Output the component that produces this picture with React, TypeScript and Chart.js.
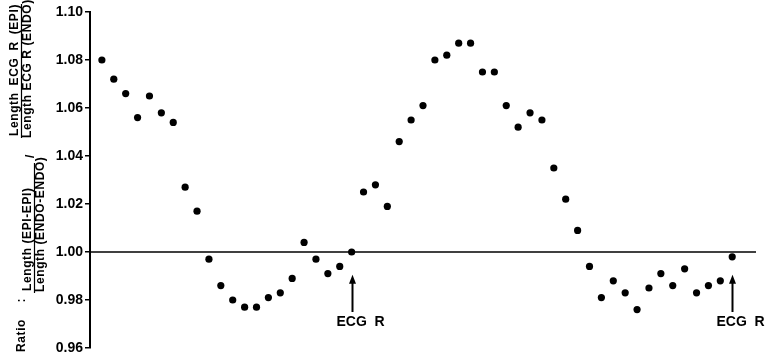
import React, { useEffect, useRef } from 'react';
import { Chart, registerables } from 'chart.js';

Chart.register(...registerables);

// ---- data ----
const sampleIndex = [
  1, 2, 3, 4, 5, 6, 7, 8, 9, 10, 11, 12, 13, 14, 15, 16, 17, 18, 19, 20, 21, 22, 23, 24, 25, 26, 27,
  28, 29, 30, 31, 32, 33, 34, 35, 36, 37, 38, 39, 40, 41, 42, 43, 44, 45, 46, 47, 48, 49, 50, 51, 52, 53, 54,
];
const ratioValues = [
  1.080, 1.072, 1.066, 1.056, 1.065, 1.058, 1.054, 1.027, 1.017, 0.997,
  0.986, 0.980, 0.977, 0.977, 0.981, 0.983, 0.989, 1.004, 0.997, 0.991,
  0.994, 1.000, 1.025, 1.028, 1.019, 1.046, 1.055, 1.061, 1.080, 1.082,
  1.087, 1.087, 1.075, 1.075, 1.061, 1.052, 1.058, 1.055, 1.035, 1.022,
  1.009, 0.994, 0.981, 0.988, 0.983, 0.976, 0.985, 0.991, 0.986, 0.993,
  0.983, 0.986, 0.988, 0.998,
];
const yTickValues = [0.96, 0.98, 1.0, 1.02, 1.04, 1.06, 1.08, 1.1];
const referenceLevel = 1.0;
const xRange = [0, 56];
const ecgMarkerIndex = [22, 54];
const ecgLabel = 'ECG  R';

const FONT = '"Liberation Sans", Arial, Helvetica, sans-serif';

const annotationPlugin = {
  id: 'ecgMarkers',
  afterDatasetsDraw(chart: any) {
    const { ctx, scales } = chart;
    const xs = scales.x;
    const ys = scales.y;
    ctx.save();
    ctx.strokeStyle = '#000';
    ctx.fillStyle = '#000';
    for (const idx of ecgMarkerIndex) {
      const x = Math.round(xs.getPixelForValue(idx)) + 0.5;
      const yTip = ys.getPixelForValue(0.9905);
      const yEnd = ys.getPixelForValue(0.975);
      ctx.lineWidth = 2;
      ctx.beginPath();
      ctx.moveTo(x, yTip + 6);
      ctx.lineTo(x, yEnd);
      ctx.stroke();
      ctx.beginPath();
      ctx.moveTo(x, yTip);
      ctx.lineTo(x - 3.5, yTip + 9);
      ctx.lineTo(x + 3.5, yTip + 9);
      ctx.closePath();
      ctx.fill();
      ctx.font = `bold 14px ${FONT}`;
      ctx.textAlign = 'left';
      ctx.textBaseline = 'middle';
      ctx.fillText(ecgLabel, x - 16, ys.getPixelForValue(0.9706));
    }
    ctx.restore();
  },
};

function vText(ctx: any, text: string, cx: number, yStart: number, fitLength?: number) {
  ctx.save();
  ctx.translate(cx, yStart);
  ctx.rotate(-Math.PI / 2);
  ctx.textAlign = 'left';
  ctx.textBaseline = 'middle';
  if (fitLength) {
    ctx.wordSpacing = '0px';
    const w = ctx.measureText(text).width;
    const spaces = (text.match(/ /g) || []).length;
    if (spaces > 0 && fitLength > w) {
      ctx.wordSpacing = `${(fitLength - w) / spaces}px`;
    }
  }
  ctx.fillText(text, 0, 0);
  ctx.restore();
}

const titlePlugin = {
  id: 'ratioTitle',
  afterDraw(chart: any) {
    const { ctx } = chart;
    ctx.save();
    ctx.fillStyle = '#000';
    ctx.strokeStyle = '#000';
    ctx.font = `bold 12px ${FONT}`;
    ctx.letterSpacing = '0.6px';
    // "Ratio :"
    vText(ctx, 'Ratio :', 22, 352, 54);
    // fraction 1
    vText(ctx, 'Length (EPI-EPI)', 28, 291, 96);
    vText(ctx, 'Length (ENDO-ENDO)', 41, 292, 122);
    ctx.lineWidth = 1.2;
    ctx.beginPath();
    ctx.moveTo(34.5, 293);
    ctx.lineTo(34.5, 163);
    ctx.stroke();
    // slash
    vText(ctx, '/', 31, 158);
    // fraction 2
    vText(ctx, 'Length ECG R (EPI)', 15, 136, 132);
    vText(ctx, 'Length ECG R (ENDO)', 28, 138, 135);
    ctx.beginPath();
    ctx.moveTo(21.5, 138);
    ctx.lineTo(21.5, 4);
    ctx.stroke();
    ctx.restore();
  },
};

export default function App() {
  const ref = useRef<HTMLCanvasElement | null>(null);
  useEffect(() => {
    if (!ref.current) return;
    const points = sampleIndex.map((x, i) => ({ x, y: ratioValues[i] }));
    const chart = new Chart(ref.current, {
      type: 'scatter',
      data: {
        datasets: [
          {
            type: 'line',
            data: [
              { x: xRange[0], y: referenceLevel },
              { x: xRange[1], y: referenceLevel },
            ],
            borderColor: '#000',
            borderWidth: 1.6,
            pointRadius: 0,
            fill: false,
          } as any,
          {
            data: points,
            backgroundColor: '#000',
            borderColor: '#000',
            pointRadius: 3.6,
            pointBorderWidth: 0,
          },
        ],
      },
      options: {
        animation: false,
        responsive: true,
        maintainAspectRatio: false,
        layout: { padding: { left: 0, top: 12, right: 11, bottom: 14 } },
        plugins: { legend: { display: false }, tooltip: { enabled: false } },
        scales: {
          x: { type: 'linear', min: xRange[0], max: xRange[1], display: false },
          y: {
            type: 'linear',
            min: yTickValues[0],
            max: yTickValues[yTickValues.length - 1],
            afterFit(scale: any) {
              scale.width = 90;
            },
            afterBuildTicks(scale: any) {
              scale.ticks = yTickValues.map((v) => ({ value: v }));
            },
            ticks: {
              color: '#000',
              padding: 2,
              font: { family: FONT, size: 14, weight: 'bold' },
              callback: (v: any) => Number(v).toFixed(2),
            },
            grid: {
              drawOnChartArea: false,
              drawTicks: true,
              tickLength: 5,
              color: '#000',
              lineWidth: 1.5,
            },
            border: { display: true, color: '#000', width: 2 },
          },
        },
      },
      plugins: [annotationPlugin, titlePlugin],
    });
    return () => chart.destroy();
  }, []);
  return (
    <div style={{ position: 'fixed', left: 0, top: 0, width: 767, height: 362, background: '#fff' }}>
      <canvas ref={ref} />
    </div>
  );
}
